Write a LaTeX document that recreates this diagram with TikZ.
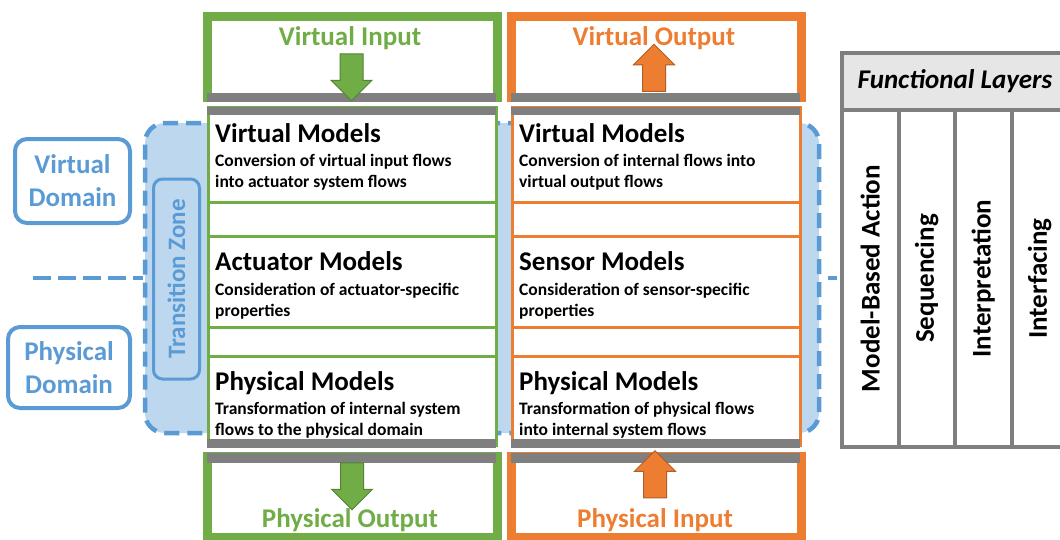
\documentclass[tikz,border=0pt]{standalone}
\usepackage{fontspec}
\setmainfont{Carlito}
\usepackage{tikz}
\usetikzlibrary{positioning, shapes.arrows}

\definecolor{vgreen}{HTML}{70AD47}
\definecolor{vorange}{HTML}{ED7D31}
\definecolor{vblue}{HTML}{5B9BD5}
\definecolor{lightblue}{HTML}{BDD7EE}
\definecolor{bargray}{HTML}{7F7F7F}
\definecolor{headgray}{HTML}{E7E6E6}

\newcommand{\hdfont}{\fontsize{27}{32}\selectfont\bfseries}
\newcommand{\bdfont}{\fontsize{17.5}{21}\selectfont\bfseries}
\newcommand{\dmfont}{\fontsize{27}{33}\selectfont\bfseries}
\newcommand{\tzfont}{\fontsize{25}{30}\selectfont\bfseries}

\begin{document}
\begin{tikzpicture}[x=1pt, y=-1pt,
    zonebg/.style={draw=vblue, fill=lightblue, line width=4.5pt, dash pattern=on 15pt off 8pt, rounded corners=20pt, minimum width=674pt, minimum height=310pt},
    sepline/.style={draw=vblue, line width=4pt, dash pattern=on 18pt off 7pt},
    domainbox/.style={draw=vblue, line width=4pt, rounded corners=12pt, fill=white, text=vblue, font=\dmfont, align=center, inner sep=0pt},
    modelbox/.style={draw=#1, line width=3pt, fill=white, minimum width=288pt, inner sep=0pt},
    iobox/.style={draw=#1, line width=9pt, fill=white, minimum width=290pt, minimum height=81pt, inner sep=0pt},
    iolabel/.style={text=#1, font=\hdfont, anchor=base, inner sep=0pt},
    headtext/.style={font=\hdfont, anchor=base west, inner sep=0pt},
    bodytext/.style={font=\bdfont, anchor=base west, align=left, inner sep=0pt},
    blockarrow/.style={single arrow, fill=#1, draw=#1!75!black, line width=1pt, minimum height=47pt, inner xsep=0pt, inner ysep=11pt, single arrow head extend=9pt},
    layercol/.style={draw=bargray, line width=4pt, fill=white, rotate=90, minimum width=337pt, minimum height=56.5pt, font=\hdfont, inner sep=0pt}]
    \useasboundingbox (0,0) rectangle (1060,539);

    % transition zone background
    \node[zonebg] (zone) at (482,278) {};
    \coordinate (sepL) at (33,278);
    \coordinate (sepR) at (837,278);
    \draw[sepline] (sepL) -- (zone.west);
    \draw[sepline, dash phase=18pt] (zone.east) -- (sepR);

    % domains
    \node[domainbox, minimum width=115pt, minimum height=84pt] (vdom) at (72.5,181) {Virtual\\Domain};
    \node[domainbox, minimum width=122pt, minimum height=81pt] (pdom) at (69,367.5) {Physical\\Domain};
    \node[domainbox, fill=lightblue, line width=3pt, rotate=90, minimum width=200pt, minimum height=46pt, rounded corners=9pt, font=\tzfont] (tzone) at (176.5,279) {Transition Zone};

    % left column - actuator side
    \node[modelbox=vgreen, minimum height=95pt] (vmodL) at (352,154.5) {};
    \node[modelbox=vgreen, minimum height=34pt] (gapL1) at (352,219) {};
    \node[modelbox=vgreen, minimum height=91pt] (amodL) at (352,281.5) {};
    \node[modelbox=vgreen, minimum height=29pt] (gapL2) at (352,341.5) {};
    \node[modelbox=vgreen, minimum height=89pt] (pmodL) at (352,400.5) {};
    \node[headtext] (vmodLh) at (215,142) {Virtual Models};
    \node[bodytext] (vmodLb) at (215,187) {Conversion of virtual input flows\\into actuator system flows};
    \node[headtext] (amodLh) at (215,270) {Actuator Models};
    \node[bodytext] (amodLb) at (215,316) {Consideration of actuator-specific\\properties};
    \node[headtext] (pmodLh) at (215,390) {Physical Models};
    \node[bodytext] (pmodLb) at (215,435) {Transformation of internal system\\flows to the physical domain};

    % right column - sensor side
    \node[modelbox=vorange, minimum height=95pt] (vmodR) at (656,154.5) {};
    \node[modelbox=vorange, minimum height=34pt] (gapR1) at (656,219) {};
    \node[modelbox=vorange, minimum height=91pt] (smodR) at (656,281.5) {};
    \node[modelbox=vorange, minimum height=29pt] (gapR2) at (656,341.5) {};
    \node[modelbox=vorange, minimum height=89pt] (pmodR) at (656,400.5) {};
    \node[headtext] (vmodRh) at (519,142) {Virtual Models};
    \node[bodytext] (vmodRb) at (519,187) {Conversion of internal flows into\\virtual output flows};
    \node[headtext] (smodRh) at (519,270) {Sensor Models};
    \node[bodytext] (smodRb) at (519,316) {Consideration of sensor-specific\\properties};
    \node[headtext] (pmodRh) at (519,390) {Physical Models};
    \node[bodytext] (pmodRb) at (519,435) {Transformation of physical flows\\into internal system flows};

    % input / output boxes
    \node[iobox=vgreen] (vin) at (352.5,57) {};
    \node[iobox=vorange] (vout) at (656,57) {};
    \node[iobox=vgreen] (pout) at (352.5,497) {};
    \node[iobox=vorange] (pin) at (656,497) {};
    \node[iolabel=vgreen] (vinl) at (350,45) {Virtual Input};
    \node[iolabel=vorange] (voutl) at (654,45) {Virtual Output};
    \node[iolabel=vgreen] (poutl) at (350,527) {Physical Output};
    \node[iolabel=vorange] (pinl) at (655,527) {Physical Input};

    % gray interface bars
    \fill[bargray] (207,93) rectangle (496,102); \fill[bargray] (207,107) rectangle (496,115);
    \fill[bargray] (511,93) rectangle (800,102); \fill[bargray] (511,107) rectangle (800,115);
    \fill[bargray] (207,439) rectangle (496,448); \fill[bargray] (207,453) rectangle (496,463);
    \fill[bargray] (511,439) rectangle (800,448); \fill[bargray] (511,453) rectangle (800,463);

    % flow arrows
    \node[blockarrow=vgreen, rotate=-90] (vinarr) at (351.5,71.5) {};
    \node[blockarrow=vorange, rotate=90] (voutarr) at (654,73.5) {};
    \node[blockarrow=vgreen, rotate=-90] (poutarr) at (352,480.5) {};
    \node[blockarrow=vorange, rotate=90] (pinarr) at (655,480) {};

    % functional layers
    \node[draw=bargray, fill=headgray, line width=4pt, minimum width=226pt, minimum height=57pt, font=\hdfont\itshape, inner sep=0pt] (fhead) at (955,81.5) {Functional Layers};
    \node[layercol] (lay1) at (870.25,278.5) {Model-Based Action};
    \node[layercol] (lay2) at (926.75,278.5) {Sequencing};
    \node[layercol] (lay3) at (983.25,278.5) {Interpretation};
    \node[layercol] (lay4) at (1039.75,278.5) {Interfacing};
\end{tikzpicture}
\end{document}
